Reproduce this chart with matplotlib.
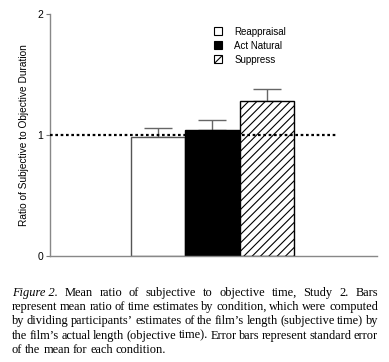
import matplotlib
matplotlib.use("Agg")
import matplotlib.pyplot as plt
from matplotlib.patches import Patch

plt.rcParams["hatch.linewidth"] = 0.8

conditions = ["Reappraisal", "Act Natural", "Suppress"]
means = [0.98, 1.04, 1.28]
errors = [0.08, 0.08, 0.10]
yticks = [0, 1, 2]
ylabel = "Ratio of Subjective to Objective Duration"
caption_lines = [
    ["Figure 2.", "Mean ratio of subjective to objective time, Study 2. Bars"],
    "represent mean ratio of time estimates by condition, which were computed",
    "by dividing participants\u2019 estimates of the film\u2019s length (subjective time) by",
    "the film\u2019s actual length (objective time). Error bars represent standard error",
    "of the mean for each condition.",
]

W, H = 389, 362
fig = plt.figure(figsize=(W / 100, H / 100), dpi=100)
ax = fig.add_axes([50 / W, 1 - 256 / H, (377 - 50) / W, (256 - 14) / H])

faces = ["white", "black", "white"]
edges = ["#555555", "black", "black"]
hatches = [None, None, "////"]
xs = list(range(len(conditions)))
for x, m, e, fc, ec, h, lab in zip(xs, means, errors, faces, edges, hatches, conditions):
    ax.bar(x, m, width=1.0, color=fc, edgecolor=ec, hatch=h, linewidth=1.0, label=lab, zorder=2)
    ax.errorbar(x, m, yerr=[[0], [e]], fmt="none", ecolor="#666666", elinewidth=1.0,
                capsize=10, capthick=1.0, zorder=1)

ax.plot([-1.98, 3.28], [1, 1], linestyle=(0, (1.2, 1.2)), color="black", linewidth=1.6, zorder=3)

ax.set_xlim(-1.98, 4.02)
ax.set_ylim(0, 2)
ax.set_xticks([])
ax.set_yticks(yticks)
ax.set_yticklabels([str(t) for t in yticks], fontsize=7.5, family="Liberation Sans")
ax.tick_params(axis="y", length=3, width=0.8, color="#777777", pad=2)
for s in ["top", "right"]:
    ax.spines[s].set_visible(False)
ax.spines["left"].set_color("#888888")
ax.spines["bottom"].set_color("#888888")
ax.spines["left"].set_linewidth(1.0)
ax.spines["bottom"].set_linewidth(1.0)
ax.set_ylabel(ylabel, fontsize=7.3, family="Liberation Sans", labelpad=6)

handles = [Patch(facecolor=fc, edgecolor="black", hatch=h, linewidth=0.8)
           for fc, h in zip(faces, ["", "", "///"])]
leg = ax.legend(handles, conditions, loc="upper left",
                bbox_to_anchor=((205 - 50) / (377 - 50), 1 - (18 - 14) / 242),
                frameon=False, handlelength=0.9, handleheight=0.9,
                handletextpad=1.2, labelspacing=0.4, prop={"family": "Liberation Sans", "size": 7})

# caption, justified
fig.canvas.draw()
renderer = fig.canvas.get_renderer()
left, right = 12 / W, 378 / W
y0 = 1 - 293 / H
dy = 14.2 / H
fs = 8.9
for i, line in enumerate(caption_lines):
    y = y0 - i * dy
    if isinstance(line, list):
        words = [(line[0], "italic")] + [(w, "normal") for w in line[1].split(" ")]
    else:
        words = [(w, "normal") for w in line.split(" ")]
    texts = []
    for w, st in words:
        t = fig.text(0, y, w, fontsize=fs, family="Liberation Serif", style=st, va="center", ha="left")
        texts.append(t)
    widths = [t.get_window_extent(renderer).width / W for t in texts]
    last = i == len(caption_lines) - 1
    if last:
        gap = 2.8 / W
    else:
        gap = (right - left - sum(widths)) / (len(widths) - 1)
    x = left
    for t, wd in zip(texts, widths):
        t.set_x(x)
        x += wd + gap

fig.savefig("out.png", dpi=100)
